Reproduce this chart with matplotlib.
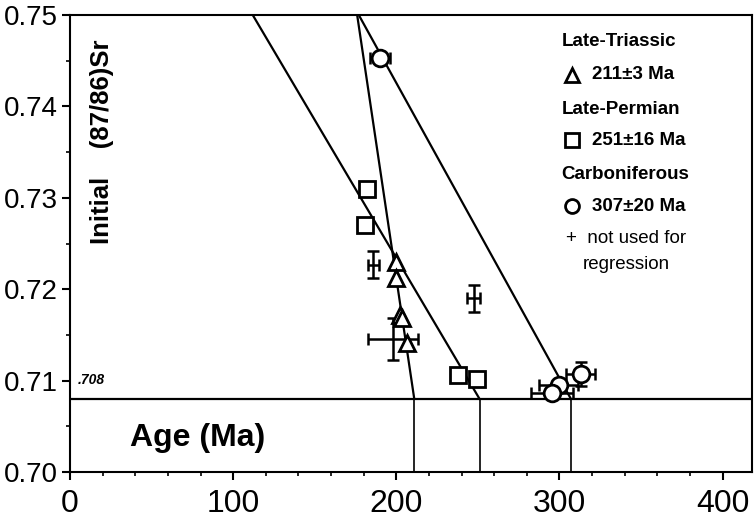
import numpy as np
import matplotlib.pyplot as plt
from matplotlib.ticker import MultipleLocator

# isochron ages (Ma) and initial Sr at the top of the chart
sr_base = 0.708
iso_age = [211, 251, 307]
iso_top_age = [176, 112, 177]
sr_top = 0.75

# Late-Triassic (triangles)
tri_age = [200, 200, 202, 203.5, 206.5]
tri_sr = [0.7230, 0.7212, 0.7172, 0.7168, 0.7141]

# Late-Permian (squares)
sq_age = [182, 181, 237.6, 249.5]
sq_sr = [0.7310, 0.7270, 0.7106, 0.7102]

# Carboniferous (circles) with errors
ci_age = [190, 313, 299.6, 295.5]
ci_sr = [0.7453, 0.7107, 0.7095, 0.7086]
ci_xerr = [6, 9, 12, 13]
ci_yerr = [0, 0.0013, 0.0, 0.0]

# not used for regression
nu_age = [186, 247.5, 198]
nu_sr = [0.7227, 0.7190, 0.7146]
nu_xerr = [3.4, 4, 15.3]
nu_yerr = [0.0015, 0.0015, 0.0023]

fig = plt.figure(figsize=(7.55, 5.18), dpi=100)
ax = fig.add_axes([70 / 755, 46 / 518, 682 / 755, 457 / 518])

lw = 1.6
# isochron lines
for a0, a1 in zip(iso_age, iso_top_age):
    ax.plot([a0, a1], [sr_base, sr_top], color='black', lw=lw, zorder=2)
    ax.plot([a0, a0], [0.70, sr_base], color='black', lw=1.2, zorder=2)
ax.axhline(sr_base, color='black', lw=lw, zorder=2)

# error bars
ax.errorbar(nu_age, nu_sr, xerr=nu_xerr, yerr=nu_yerr, fmt='none', ecolor='black',
            elinewidth=1.8, capsize=4, capthick=1.8, zorder=3)
ax.errorbar(ci_age, ci_sr, xerr=ci_xerr, yerr=ci_yerr, fmt='none', ecolor='black',
            elinewidth=1.8, capsize=4, capthick=1.8, zorder=3)

ax.plot(tri_age, tri_sr, linestyle='none', marker='^', ms=11, mfc='white', mec='black', mew=2, zorder=4)
ax.plot(sq_age, sq_sr, linestyle='none', marker='s', ms=11, mfc='white', mec='black', mew=2, zorder=4)
ax.plot(ci_age, ci_sr, linestyle='none', marker='o', ms=12, mfc='white', mec='black', mew=2, zorder=4)

ax.set_xlim(0, 418)
ax.set_ylim(0.70, 0.75)
ax.xaxis.set_major_locator(MultipleLocator(100))
ax.xaxis.set_minor_locator(MultipleLocator(20))
ax.yaxis.set_major_locator(MultipleLocator(0.01))
ax.yaxis.set_minor_locator(MultipleLocator(0.005))
ax.yaxis.set_major_formatter(plt.FormatStrFormatter('%.2f'))

for s in ax.spines.values():
    s.set_linewidth(1.5)
ax.tick_params(which='major', length=6, width=1.5, direction='out')
ax.tick_params(which='minor', length=3, width=1.2, direction='out')
ax.tick_params(axis='x', pad=6)
ax.tick_params(axis='y', pad=3)
for lab in ax.get_xticklabels():
    lab.set_fontfamily('Liberation Sans')
    lab.set_fontsize(23)
for lab in ax.get_yticklabels():
    lab.set_fontfamily('Liberation Sans')
    lab.set_fontsize(20)

# in-plot labels
ax.text(0.047, 0.722, 'Initial    (87/86)Sr', transform=ax.transAxes, rotation=90,
        ha='center', va='center', fontsize=18.5, fontweight='bold', family='Liberation Sans')
ax.text(0.012, 0.185, '.708', transform=ax.transAxes, fontsize=10, fontweight='bold',
        style='italic', family='Liberation Sans', va='bottom')
ax.text(0.088, 0.075, 'Age (Ma)', transform=ax.transAxes, fontsize=23, fontweight='bold',
        family='Liberation Sans', va='center')

# legend text
fs = 13.5
lf = 'Liberation Sans'
ax.text(0.721, 0.941, 'Late-Triassic', transform=ax.transAxes, fontsize=fs, fontweight='bold', family=lf, va='center')
ax.plot([0.736], [0.869], transform=ax.transAxes, marker='^', ms=10, mfc='white', mec='black', mew=2, clip_on=False)
ax.text(0.765, 0.869, '211±3 Ma', transform=ax.transAxes, fontsize=fs, fontweight='bold', family=lf, va='center')
ax.text(0.721, 0.794, 'Late-Permian', transform=ax.transAxes, fontsize=fs, fontweight='bold', family=lf, va='center')
ax.plot([0.736], [0.726], transform=ax.transAxes, marker='s', ms=10, mfc='white', mec='black', mew=2, clip_on=False)
ax.text(0.765, 0.726, '251±16 Ma', transform=ax.transAxes, fontsize=fs, fontweight='bold', family=lf, va='center')
ax.text(0.721, 0.650, 'Carboniferous', transform=ax.transAxes, fontsize=fs, fontweight='bold', family=lf, va='center')
ax.plot([0.736], [0.582], transform=ax.transAxes, marker='o', ms=10, mfc='white', mec='black', mew=2, clip_on=False)
ax.text(0.765, 0.582, '307±20 Ma', transform=ax.transAxes, fontsize=fs, fontweight='bold', family=lf, va='center')
ax.text(0.728, 0.512, '+  not used for', transform=ax.transAxes, fontsize=fs, family=lf, va='center')
ax.text(0.752, 0.453, 'regression', transform=ax.transAxes, fontsize=fs, family=lf, va='center')

fig.savefig('out.png', dpi=100)
